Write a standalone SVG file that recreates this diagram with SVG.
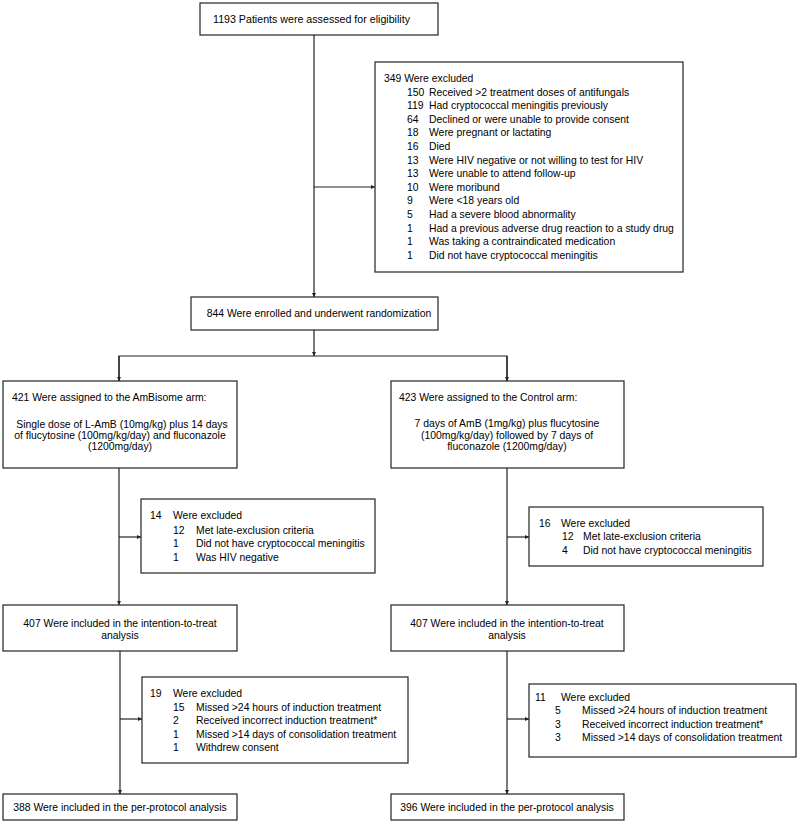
<svg xmlns="http://www.w3.org/2000/svg" width="800" height="824" viewBox="0 0 800 824">
<defs>
<marker id="ah" viewBox="0 0 6 6" refX="6" refY="3" markerWidth="4" markerHeight="4" orient="auto" markerUnits="userSpaceOnUse">
<path d="M0,0 L6,3 L0,6 z" fill="#222"/>
</marker>
<style>
.box{fill:#fff;stroke:#222;stroke-width:1.2}
text{font-family:"Liberation Sans",Arial,sans-serif;font-size:10.4px;fill:#000}
.c{text-anchor:middle}
.ln{stroke:#222;stroke-width:1.2;fill:none}
.a{marker-end:url(#ah)}
</style>
</defs>
<rect width="800" height="824" fill="#fff"/>
<g id="connectors">
<line class="ln a" x1="314" y1="35" x2="314" y2="297"/>
<line class="ln a" x1="314" y1="187" x2="375" y2="187"/>
<line class="ln a" x1="314" y1="330" x2="314" y2="356"/>
<polyline class="ln" points="119,381 119,356 507,356 507,381"/>
<line class="ln a" x1="119" y1="356" x2="119" y2="381"/>
<line class="ln a" x1="507" y1="356" x2="507" y2="381"/>
<line class="ln a" x1="119" y1="468" x2="119" y2="605"/>
<line class="ln a" x1="119" y1="537" x2="141" y2="537"/>
<line class="ln a" x1="507" y1="468" x2="507" y2="605"/>
<line class="ln a" x1="507" y1="537" x2="529" y2="537"/>
<line class="ln a" x1="120" y1="651" x2="120" y2="794"/>
<line class="ln a" x1="120" y1="719" x2="142" y2="719"/>
<line class="ln a" x1="507" y1="651" x2="507" y2="794"/>
<line class="ln a" x1="507" y1="719" x2="529" y2="719"/>
</g>
<g id="assessed">
<rect class="box" x="200" y="3" width="238" height="32"/>
<text x="213" y="23" textLength="197" lengthAdjust="spacingAndGlyphs">1193 Patients were assessed for eligibility</text>
</g>
<g id="excluded1">
<rect class="box" x="375" y="62" width="308" height="210"/>
<text x="384" y="82">349 Were excluded</text>
<g>
<text x="407" y="95.5">150</text><text x="429" y="95.5">Received &gt;2 treatment doses of antifungals</text>
<text x="407" y="109">119</text><text x="429" y="109">Had cryptococcal meningitis previously</text>
<text x="407" y="122.7">64</text><text x="429" y="122.7">Declined or were unable to provide consent</text>
<text x="407" y="136.3">18</text><text x="429" y="136.3">Were pregnant or lactating</text>
<text x="407" y="149.9">16</text><text x="429" y="149.9">Died</text>
<text x="407" y="163.5">13</text><text x="429" y="163.5">Were HIV negative or not willing to test for HIV</text>
<text x="407" y="177.1">13</text><text x="429" y="177.1">Were unable to attend follow-up</text>
<text x="407" y="190.7">10</text><text x="429" y="190.7">Were moribund</text>
<text x="407" y="204.3">9</text><text x="429" y="204.3">Were &lt;18 years old</text>
<text x="407" y="217.9">5</text><text x="429" y="217.9">Had a severe blood abnormality</text>
<text x="407" y="231.5">1</text><text x="429" y="231.5">Had a previous adverse drug reaction to a study drug</text>
<text x="407" y="245.1">1</text><text x="429" y="245.1">Was taking a contraindicated medication</text>
<text x="407" y="258.7">1</text><text x="429" y="258.7">Did not have cryptococcal meningitis</text>
</g>
</g>
<g id="randomized">
<rect class="box" x="191" y="297" width="247" height="33"/>
<text class="c" x="319" y="317">844 Were enrolled and underwent randomization</text>
</g>
<g id="ambisome">
<rect class="box" x="3" y="381" width="234" height="87"/>
<text x="12" y="401">421 Were assigned to the AmBisome arm:</text>
<text class="c" x="122" y="427.5">Single dose of L-AmB (10mg/kg) plus 14 days</text>
<text class="c" x="120" y="438.5">of flucytosine (100mg/kg/day) and fluconazole</text>
<text class="c" x="120" y="449.5">(1200mg/day)</text>
</g>
<g id="control">
<rect class="box" x="391" y="381" width="233" height="87"/>
<text x="399" y="401">423 Were assigned to the Control arm:</text>
<text class="c" x="507" y="427">7 days of AmB (1mg/kg) plus flucytosine</text>
<text class="c" x="507" y="438.5">(100mg/kg/day) followed by 7 days of</text>
<text class="c" x="507" y="449.5">fluconazole (1200mg/day)</text>
</g>
<g id="excludedA">
<rect class="box" x="141" y="499" width="234" height="74"/>
<text x="150" y="518.5">14</text><text x="173" y="518.5">Were excluded</text>
<text x="173" y="533.5">12</text><text x="196" y="533.5">Met late-exclusion criteria</text>
<text x="173" y="547">1</text><text x="196" y="547">Did not have cryptococcal meningitis</text>
<text x="173" y="560.5">1</text><text x="196" y="560.5">Was HIV negative</text>
</g>
<g id="excludedC">
<rect class="box" x="529" y="507" width="234" height="59"/>
<text x="539" y="526.5">16</text><text x="561" y="526.5">Were excluded</text>
<text x="562" y="540">12</text><text x="583" y="540">Met late-exclusion criteria</text>
<text x="562" y="553.5">4</text><text x="583" y="553.5">Did not have cryptococcal meningitis</text>
</g>
<g id="ittA">
<rect class="box" x="3" y="605" width="234" height="46"/>
<text class="c" x="120" y="626.5">407 Were included in the intention-to-treat</text>
<text class="c" x="120" y="638.5">analysis</text>
</g>
<g id="ittC">
<rect class="box" x="391" y="605" width="233" height="46"/>
<text class="c" x="507" y="626.5">407 Were included in the intention-to-treat</text>
<text class="c" x="507" y="638.5">analysis</text>
</g>
<g id="excludedA2">
<rect class="box" x="142" y="677" width="266" height="86"/>
<text x="150" y="696.5">19</text><text x="173" y="696.5">Were excluded</text>
<text x="173" y="710.5">15</text><text x="196" y="710.5">Missed &gt;24 hours of induction treatment</text>
<text x="173" y="724">2</text><text x="196" y="724">Received incorrect induction treatment*</text>
<text x="173" y="737.5">1</text><text x="196" y="737.5">Missed &gt;14 days of consolidation treatment</text>
<text x="173" y="751">1</text><text x="196" y="751">Withdrew consent</text>
</g>
<g id="excludedC2">
<rect class="box" x="529" y="684" width="267" height="73"/>
<text x="535" y="700.5">11</text><text x="561" y="700.5">Were excluded</text>
<text x="555" y="714">5</text><text x="582" y="714">Missed &gt;24 hours of induction treatment</text>
<text x="555" y="727.5">3</text><text x="582" y="727.5">Received incorrect induction treatment*</text>
<text x="555" y="741">3</text><text x="582" y="741">Missed &gt;14 days of consolidation treatment</text>
</g>
<g id="ppA">
<rect class="box" x="3" y="794" width="234" height="26"/>
<text class="c" x="120" y="810.5">388 Were included in the per-protocol analysis</text>
</g>
<g id="ppC">
<rect class="box" x="391" y="794" width="233" height="26"/>
<text class="c" x="507" y="810.5">396 Were included in the per-protocol analysis</text>
</g>
</svg>
